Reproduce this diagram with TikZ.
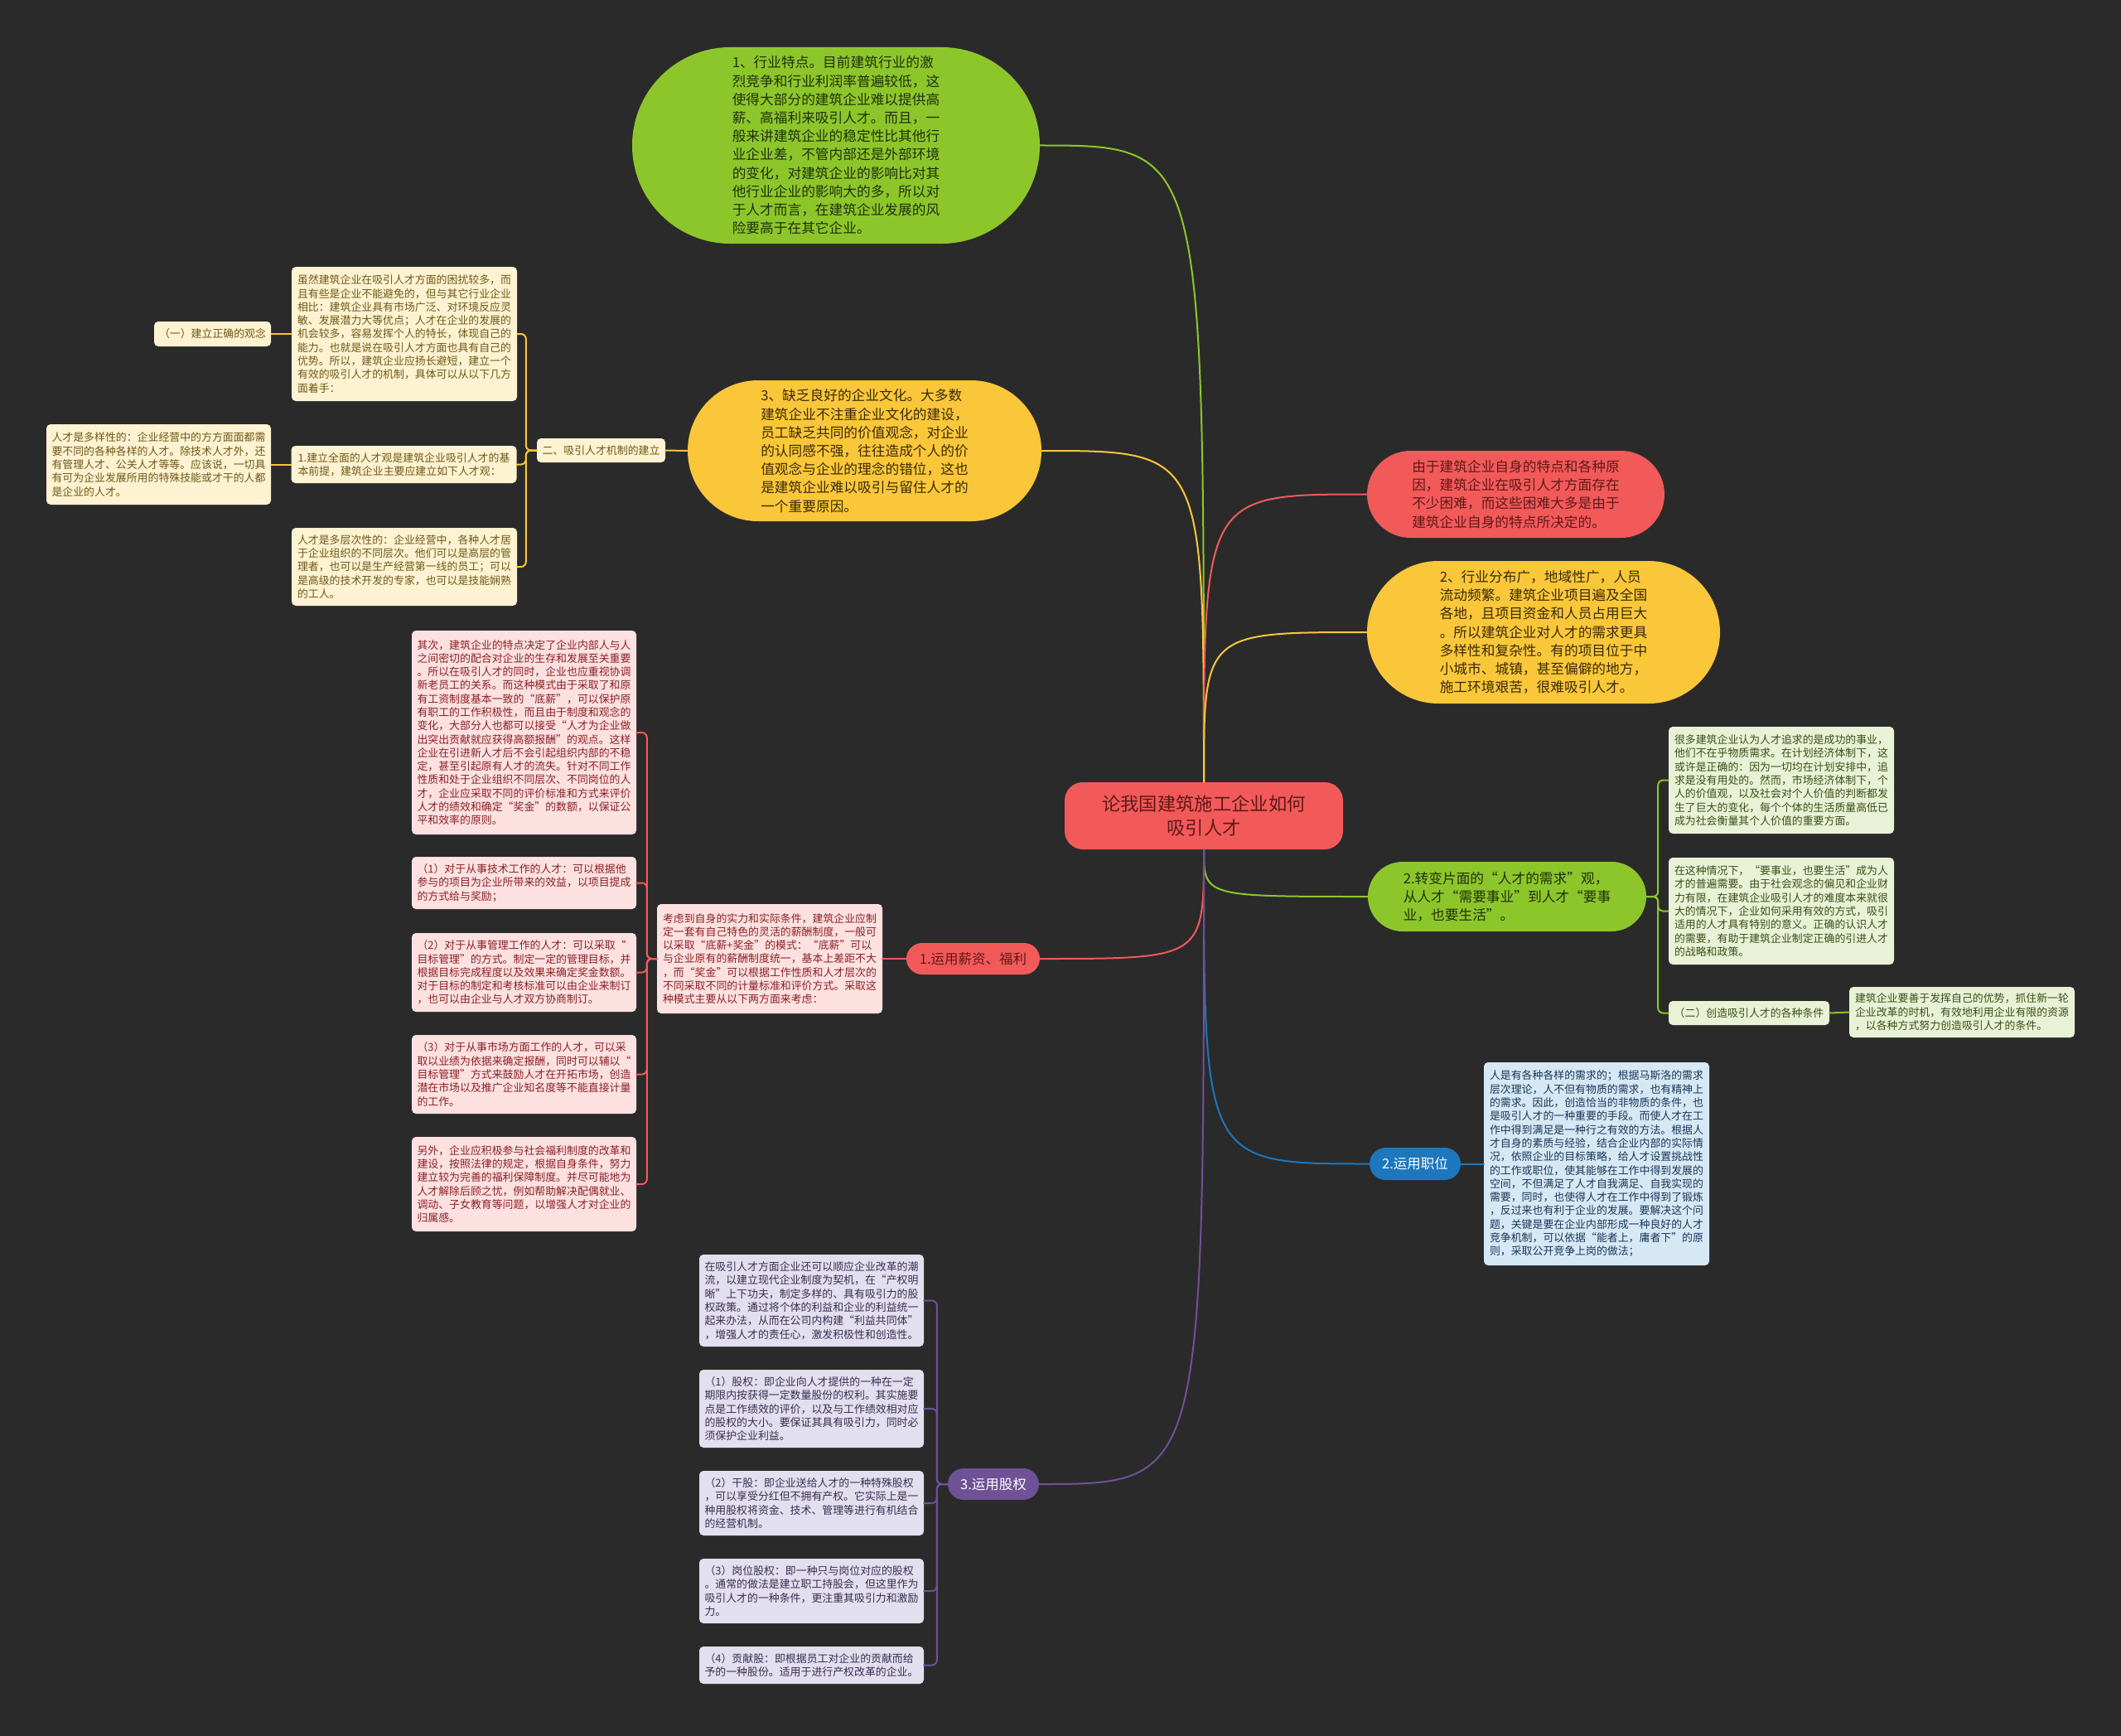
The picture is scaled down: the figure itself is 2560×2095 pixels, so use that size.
\documentclass[tikz,border=0pt]{standalone}
\usepackage{fontspec}
\newfontfamily\cjk{Noto Sans CJK SC}
\usetikzlibrary{shapes.misc}

\definecolor{bgdark}{RGB}{42,42,42}
\definecolor{limeg}{RGB}{141,198,43}
\definecolor{sunny}{RGB}{250,199,58}
\definecolor{coral}{RGB}{242,90,90}
\definecolor{ocean}{RGB}{28,119,189}
\definecolor{grape}{RGB}{110,81,150}
\definecolor{limetext}{RGB}{32,48,10}
\definecolor{sunnytext}{RGB}{58,42,6}
\definecolor{coraltext}{RGB}{96,24,24}
\definecolor{creamfill}{RGB}{253,243,210}
\definecolor{creamtext}{RGB}{112,88,24}
\definecolor{pinkfill}{RGB}{253,225,225}
\definecolor{pinktext}{RGB}{140,32,36}
\definecolor{mintfill}{RGB}{233,242,214}
\definecolor{minttext}{RGB}{58,78,26}
\definecolor{skyfill}{RGB}{215,232,245}
\definecolor{skytext}{RGB}{22,55,88}
\definecolor{lilacfill}{RGB}{226,223,238}
\definecolor{lilactext}{RGB}{58,46,82}

\begin{document}
\begin{tikzpicture}[
  x=1pt, y=-1pt, line cap=round, line join=round,
  bubble/.style={rounded rectangle, align=left, inner xsep=2pt, inner ysep=8pt,
                 font=\cjk\fontsize{16.7}{22.2}\selectfont},
  tag/.style={rounded rectangle, align=center, inner xsep=4pt, inner ysep=4pt,
              font=\cjk\fontsize{16.5}{20}\selectfont},
  leaf/.style={rounded corners=5pt, align=left, inner xsep=6pt, inner ysep=6pt,
               font=\cjk\fontsize{12.9}{16.3}\selectfont},
  link/.style={line width=2pt}
]

  \useasboundingbox (0,0) rectangle (2560,2095);
  \fill[bgdark] (0,0) rectangle (2560,2095);

  % ── Root ──────────────────────────────────────────────────────────────────
  \node[fill=coral, rounded corners=22pt, minimum width=336, minimum height=81,
        align=center, text=coraltext, font=\cjk\fontsize{22.3}{29}\selectfont]
      (root) at (1453, 984.5) {论我国建筑施工企业如何\\吸引人才};

  % ── Main branches ─────────────────────────────────────────────────────────
  \node[bubble, fill=limeg, text=limetext, minimum width=496, minimum height=237]
      (trade) at (1009, 175.5)
      {1、行业特点。目前建筑行业的激\\烈竞争和行业利润率普遍较低，这\\使得大部分的建筑企业难以提供高\\薪、高福利来吸引人才。而且，一\\般来讲建筑企业的稳定性比其他行\\业企业差，不管内部还是外部环境\\的变化，对建筑企业的影响比对其\\他行业企业的影响大的多，所以对\\于人才而言，在建筑企业发展的风\\险要高于在其它企业。};
  \node[bubble, fill=sunny, text=sunnytext, minimum width=431, minimum height=170]
      (culture) at (1043.5, 544)
      {3、缺乏良好的企业文化。大多数\\建筑企业不注重企业文化的建设，\\员工缺乏共同的价值观念，对企业\\的认同感不强，往往造成个人的价\\值观念与企业的理念的错位，这也\\是建筑企业难以吸引与留住人才的\\一个重要原因。};
  \node[bubble, fill=coral, text=coraltext, minimum width=363, minimum height=105]
      (cause) at (1829.5, 596.5)
      {由于建筑企业自身的特点和各种原\\因，建筑企业在吸引人才方面存在\\不少困难，而这些困难大多是由于\\建筑企业自身的特点所决定的。};
  \node[bubble, fill=sunny, text=sunnytext, minimum width=430, minimum height=172]
      (spread) at (1863, 763)
      {2、行业分布广，地域性广，人员\\流动频繁。建筑企业项目遍及全国\\各地，且项目资金和人员占用巨大\\。所以建筑企业对人才的需求更具\\多样性和复杂性。有的项目位于中\\小城市、城镇，甚至偏僻的地方，\\施工环境艰苦，很难吸引人才。};
  \node[bubble, fill=limeg, text=limetext, minimum width=340, minimum height=84]
      (needs) at (1819, 1082)
      {2.转变片面的“人才的需求”观，\\从人才“需要事业”到人才“要事\\业，也要生活”。};
  \node[tag, fill=ocean, text=white, minimum width=118, minimum height=39]
      (post) at (1708, 1404.5) {2.运用职位};
  \node[tag, fill=coral, text=coraltext, minimum width=169, minimum height=38]
      (pay) at (1174.5, 1157) {1.运用薪资、福利};
  \node[tag, fill=grape, text=white, minimum width=118, minimum height=38]
      (equity) at (1199, 1791) {3.运用股权};

  % root curves
  \draw[link, limeg] (root.north) .. controls (root.north |- trade.east) .. (trade.east);
  \draw[link, sunny] (root.north) .. controls (root.north |- culture.east) .. (culture.east);
  \draw[link, coral] (root.north) .. controls (root.north |- cause.west) .. (cause.west);
  \draw[link, sunny] (root.north) .. controls (root.north |- spread.west) .. (spread.west);
  \draw[link, limeg] (root.south) .. controls (root.south |- needs.west) .. (needs.west);
  \draw[link, ocean] (root.south) .. controls (root.south |- post.west) .. (post.west);
  \draw[link, coral] (root.south) .. controls (root.south |- pay.east) .. (pay.east);
  \draw[link, grape] (root.south) .. controls (root.south |- equity.east) .. (equity.east);

  % ── Mechanism (yellow, left) ──────────────────────────────────────────────
  \node[leaf, fill=creamfill, text=creamtext, minimum width=155, minimum height=29]
      (mech) at (725.5, 543.5) {二、吸引人才机制的建立};
  \node[leaf, fill=creamfill, text=creamtext, minimum width=272, minimum height=162]
      (mechA) at (488, 403)
      {虽然建筑企业在吸引人才方面的困扰较多，而\\且有些是企业不能避免的，但与其它行业企业\\相比：建筑企业具有市场广泛、对环境反应灵\\敏、发展潜力大等优点；人才在企业的发展的\\机会较多，容易发挥个人的特长，体现自己的\\能力。也就是说在吸引人才方面也具有自己的\\优势。所以，建筑企业应扬长避短，建立一个\\有效的吸引人才的机制，具体可以从以下几方\\面着手：};
  \node[leaf, fill=creamfill, text=creamtext, minimum width=141, minimum height=30]
      (idea) at (256.5, 403) {（一）建立正确的观念};
  \node[leaf, fill=creamfill, text=creamtext, minimum width=272, minimum height=45]
      (mechB) at (487.5, 560.5)
      {1.建立全面的人才观是建筑企业吸引人才的基\\本前提，建筑企业主要应建立如下人才观：};
  \node[leaf, fill=creamfill, text=creamtext, minimum width=271, minimum height=97]
      (diverse) at (191.5, 560.5)
      {人才是多样性的：企业经营中的方方面面都需\\要不同的各种各样的人才。除技术人才外，还\\有管理人才、公关人才等等。应该说，一切具\\有可为企业发展所用的特殊技能或才干的人都\\是企业的人才。};
  \node[leaf, fill=creamfill, text=creamtext, minimum width=272, minimum height=94]
      (mechC) at (488, 684)
      {人才是多层次性的：企业经营中，各种人才居\\于企业组织的不同层次。他们可以是高层的管\\理者，也可以是生产经营第一线的员工；可以\\是高级的技术开发的专家，也可以是技能娴熟\\的工人。};

  \draw[link, sunny] (culture.west) -- (mech.east);
  \foreach \kid in {mechA, mechB, mechC}
    \draw[link, sunny, rounded corners=6pt] (mech.west) -- ++(-13,0) |- (\kid.east);
  \draw[link, sunny] (mechA.west) -- (idea.east);
  \draw[link, sunny] (mechB.west) -- (diverse.east);

  % ── Pay (red, left) ───────────────────────────────────────────────────────
  \node[leaf, fill=pinkfill, text=pinktext, minimum width=272, minimum height=132]
      (payA) at (929, 1157)
      {考虑到自身的实力和实际条件，建筑企业应制\\定一套有自己特色的灵活的薪酬制度，一般可\\以采取“底薪+奖金”的模式：“底薪”可以\\与企业原有的薪酬制度统一，基本上差距不大\\，而“奖金”可以根据工作性质和人才层次的\\不同采取不同的计量标准和评价方式。采取这\\种模式主要从以下两方面来考虑：};
  \node[leaf, fill=pinkfill, text=pinktext, minimum width=271, minimum height=246]
      (pay1) at (632.5, 884)
      {其次，建筑企业的特点决定了企业内部人与人\\之间密切的配合对企业的生存和发展至关重要\\。所以在吸引人才的同时，企业也应重视协调\\新老员工的关系。而这种模式由于采取了和原\\有工资制度基本一致的“底薪”，可以保护原\\有职工的工作积极性，而且由于制度和观念的\\变化，大部分人也都可以接受“人才为企业做\\出突出贡献就应获得高额报酬”的观点。这样\\企业在引进新人才后不会引起组织内部的不稳\\定，甚至引起原有人才的流失。针对不同工作\\性质和处于企业组织不同层次、不同岗位的人\\才，企业应采取不同的评价标准和方式来评价\\人才的绩效和确定“奖金”的数额，以保证公\\平和效率的原则。};
  \node[leaf, fill=pinkfill, text=pinktext, minimum width=271, minimum height=63]
      (pay2) at (632.5, 1065.5)
      {（1）对于从事技术工作的人才：可以根据他\\参与的项目为企业所带来的效益，以项目提成\\的方式给与奖励；};
  \node[leaf, fill=pinkfill, text=pinktext, minimum width=271, minimum height=95]
      (pay3) at (632.5, 1173.5)
      {（2）对于从事管理工作的人才：可以采取“\\目标管理”的方式。制定一定的管理目标，并\\根据目标完成程度以及效果来确定奖金数额。\\对于目标的制定和考核标准可以由企业来制订\\，也可以由企业与人才双方协商制订。};
  \node[leaf, fill=pinkfill, text=pinktext, minimum width=271, minimum height=95]
      (pay4) at (632.5, 1296.5)
      {（3）对于从事市场方面工作的人才，可以采\\取以业绩为依据来确定报酬，同时可以辅以“\\目标管理”方式来鼓励人才在开拓市场，创造\\潜在市场以及推广企业知名度等不能直接计量\\的工作。};
  \node[leaf, fill=pinkfill, text=pinktext, minimum width=271, minimum height=114]
      (pay5) at (632.5, 1429)
      {另外，企业应积极参与社会福利制度的改革和\\建设，按照法律的规定，根据自身条件，努力\\建立较为完善的福利保障制度。并尽可能地为\\人才解除后顾之忧，例如帮助解决配偶就业、\\调动、子女教育等问题，以增强人才对企业的\\归属感。};

  \draw[link, coral] (pay.west) -- (payA.east);
  \foreach \kid in {pay1, pay2, pay3, pay4, pay5}
    \draw[link, coral, rounded corners=6pt] (payA.west) -- ++(-12,0) |- (\kid.east);

  % ── Needs (green, right) ──────────────────────────────────────────────────
  \node[leaf, fill=mintfill, text=minttext, minimum width=272, minimum height=129]
      (need1) at (2150, 941.5)
      {很多建筑企业认为人才追求的是成功的事业，\\他们不在乎物质需求。在计划经济体制下，这\\或许是正确的：因为一切均在计划安排中，追\\求是没有用处的。然而，市场经济体制下，个\\人的价值观，以及社会对个人价值的判断都发\\生了巨大的变化，每个个体的生活质量高低已\\成为社会衡量其个人价值的重要方面。};
  \node[leaf, fill=mintfill, text=minttext, minimum width=272, minimum height=129]
      (need2) at (2150, 1099.5)
      {在这种情况下，“要事业，也要生活”成为人\\才的普遍需要。由于社会观念的偏见和企业财\\力有限，在建筑企业吸引人才的难度本来就很\\大的情况下，企业如何采用有效的方式，吸引\\适用的人才具有特别的意义。正确的认识人才\\的需要，有助于建筑企业制定正确的引进人才\\的战略和政策。};
  \node[leaf, fill=mintfill, text=minttext, minimum width=194, minimum height=29]
      (need3) at (2111, 1222.5) {（二）创造吸引人才的各种条件};
  \node[leaf, fill=mintfill, text=minttext, minimum width=272, minimum height=61]
      (terms) at (2368, 1221.5)
      {建筑企业要善于发挥自己的优势，抓住新一轮\\企业改革的时机，有效地利用企业有限的资源\\，以各种方式努力创造吸引人才的条件。};

  \foreach \kid in {need1, need2, need3}
    \draw[link, limeg, rounded corners=6pt] (needs.east) -- ++(14,0) |- (\kid.west);
  \draw[link, limeg] (need3.east) -- (terms.west);

  % ── Post (blue, right) ────────────────────────────────────────────────────
  \node[leaf, fill=skyfill, text=skytext, minimum width=272, minimum height=245]
      (postA) at (1927, 1404.5)
      {人是有各种各样的需求的；根据马斯洛的需求\\层次理论，人不但有物质的需求，也有精神上\\的需求。因此，创造恰当的非物质的条件，也\\是吸引人才的一种重要的手段。而使人才在工\\作中得到满足是一种行之有效的方法。根据人\\才自身的素质与经验，结合企业内部的实际情\\况，依照企业的目标策略，给人才设置挑战性\\的工作或职位，使其能够在工作中得到发展的\\空间，不但满足了人才自我满足、自我实现的\\需要，同时，也使得人才在工作中得到了锻炼\\，反过来也有利于企业的发展。要解决这个问\\题，关键是要在企业内部形成一种良好的人才\\竞争机制，可以依据“能者上，庸者下”的原\\则，采取公开竞争上岗的做法；};

  \draw[link, ocean] (post.east) -- (postA.west);

  % ── Equity (purple, left) ─────────────────────────────────────────────────
  \node[leaf, fill=lilacfill, text=lilactext, minimum width=271, minimum height=111]
      (eq1) at (979.5, 1569.5)
      {在吸引人才方面企业还可以顺应企业改革的潮\\流，以建立现代企业制度为契机，在“产权明\\晰”上下功夫，制定多样的、具有吸引力的股\\权政策。通过将个体的利益和企业的利益统一\\起来办法，从而在公司内构建“利益共同体”\\，增强人才的责任心，激发积极性和创造性。};
  \node[leaf, fill=lilacfill, text=lilactext, minimum width=271, minimum height=94]
      (eq2) at (979.5, 1700)
      {（1）股权：即企业向人才提供的一种在一定\\期限内按获得一定数量股份的权利。其实施要\\点是工作绩效的评价，以及与工作绩效相对应\\的股权的大小。要保证其具有吸引力，同时必\\须保护企业利益。};
  \node[leaf, fill=lilacfill, text=lilactext, minimum width=271, minimum height=78]
      (eq3) at (979.5, 1814)
      {（2）干股：即企业送给人才的一种特殊股权\\，可以享受分红但不拥有产权。它实际上是一\\种用股权将资金、技术、管理等进行有机结合\\的经营机制。};
  \node[leaf, fill=lilacfill, text=lilactext, minimum width=271, minimum height=78]
      (eq4) at (979.5, 1920)
      {（3）岗位股权：即一种只与岗位对应的股权\\。通常的做法是建立职工持股会，但这里作为\\吸引人才的一种条件，更注重其吸引力和激励\\力。};
  \node[leaf, fill=lilacfill, text=lilactext, minimum width=271, minimum height=45]
      (eq5) at (979.5, 2009.5)
      {（4）贡献股：即根据员工对企业的贡献而给\\予的一种股份。适用于进行产权改革的企业。};

  \foreach \kid in {eq1, eq2, eq3, eq4, eq5}
    \draw[link, grape, rounded corners=6pt] (equity.west) -- ++(-13,0) |- (\kid.east);

\end{tikzpicture}
\end{document}
